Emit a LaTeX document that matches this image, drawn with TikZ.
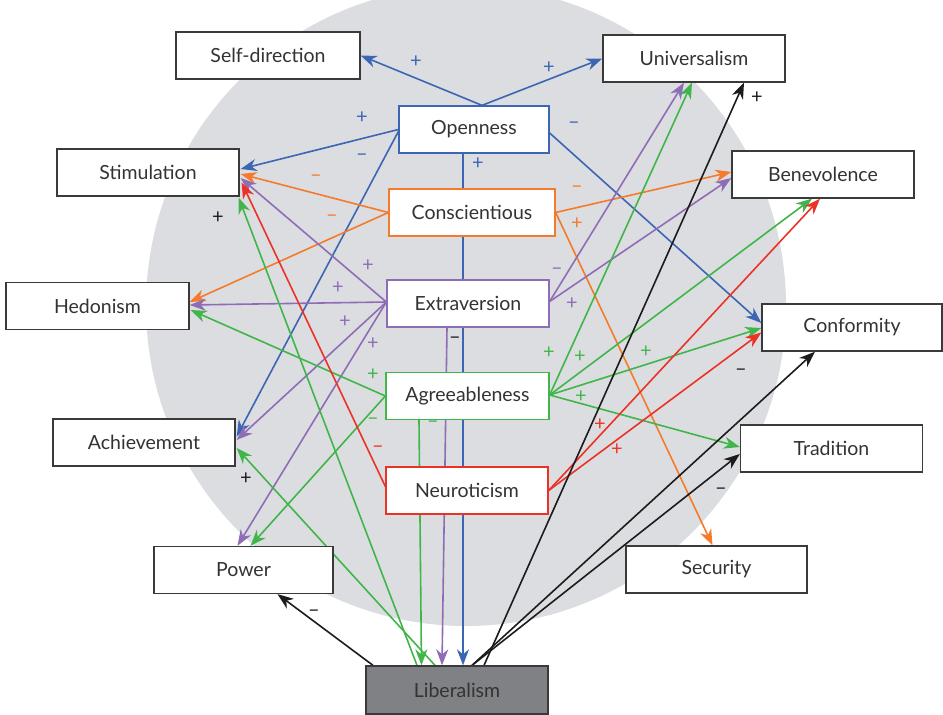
\documentclass[tikz,border=0pt]{standalone}
\usepackage{fontspec}
\setmainfont{Lato}
\usetikzlibrary{arrows.meta,calc}
\definecolor{cBlue}{HTML}{3C66B4}
\definecolor{cOrange}{HTML}{F47A2C}
\definecolor{cPurple}{HTML}{8F6DB6}
\definecolor{cGreen}{HTML}{40B64A}
\definecolor{cRed}{HTML}{EC3226}
\definecolor{cInk}{HTML}{1C1C1C}
\definecolor{cDisc}{HTML}{DCDDE0}
\definecolor{cText}{HTML}{333333}
\definecolor{cBorder}{HTML}{3A3A3A}
\definecolor{cLib}{HTML}{808185}
\pgfdeclarelayer{disc}
\pgfdeclarelayer{links}
\pgfsetlayers{disc,links,main}
\begin{document}
\begin{tikzpicture}[x=1pt,y=-1pt,
  box/.style={draw=#1, fill=white, line width=1.3pt, minimum height=47pt,
    inner sep=0pt, text=cText, font=\fontsize{19.5}{22}\selectfont},
  valbox/.style={box=cBorder, minimum width=182pt},
  link/.style={draw=#1, line width=1.6pt,
    -{Stealth[length=16pt,width=12pt,inset=5pt]}},
  sign/.style={text=#1, font=\fontsize{20}{20}\selectfont, inner sep=0pt},
]
\useasboundingbox (0,0) rectangle (943,715);
\clip (0,0) rectangle (943,715);

% shared disc behind the whole model
\begin{pgfonlayer}{disc}
  \fill[cDisc] (466,306) circle (320);
\end{pgfonlayer}

% value and trait boxes
\node[valbox, minimum width=184pt] (selfdir) at (268,55.5) {Self-direction};
\node[valbox] (univ) at (694,58.5) {Universalism};
\node[box=cBlue, minimum width=150pt] (open) at (474,129.5) {Openness};
\node[valbox] (stim) at (148,172.5) {Stimulation};
\node[box=cOrange, minimum width=166pt] (consc) at (472,212.5) {Conscientious};
\node[valbox] (bene) at (823,174.5) {Benevolence};
\node[valbox, minimum width=183pt] (hedo) at (97.5,306) {Hedonism};
\node[box=cPurple, minimum width=162pt] (extra) at (468,303.5) {Extraversion};
\node[valbox, minimum width=180pt] (conf) at (852,327.5) {Conformity};
\node[box=cGreen, minimum width=163pt] (agree) at (467.5,396) {Agreeableness};
\node[valbox] (achi) at (144,442.5) {Achievement};
\node[valbox] (trad) at (831.5,448.5) {Tradition};
\node[box=cRed, minimum width=162pt] (neuro) at (467,490.5) {Neuroticism};
\node[valbox, minimum width=179pt] (power) at (243.5,570) {Power};
\node[valbox, minimum width=181pt] (secu) at (716.5,569.5) {Security};
\node[box=cBorder, fill=cLib, minimum width=182pt, minimum height=48pt] (lib) at (457,690) {Liberalism};

\begin{pgfonlayer}{links}
  % Openness
  \draw[link=cBlue] ($(open.north)+(8,0)$) -- (selfdir.east);
  \draw[link=cBlue] ($(open.north)+(8,0)$) -- (univ.west);
  \draw[link=cBlue] (open.west) -- ($(stim.east)+(1,-3.5)$);
  \draw[link=cBlue] ($(open.west)+(0,2)$) -- ($(achi.east)+(1,-6)$);
  \draw[link=cBlue] ($(open.south)+(-11,0)$) -- ($(lib.north)+(6,0)$);
  \draw[link=cBlue] ($(open.east)+(0,3.5)$) -- ($(conf.west)+(0,-4.5)$);
  % Conscientious
  \draw[link=cOrange] (consc.west) -- ($(stim.east)+(1,1.5)$);
  \draw[link=cOrange] (consc.west) -- ($(hedo.east)+(0,-4)$);
  \draw[link=cOrange] (consc.east) -- ($(bene.west)+(0,-2.5)$);
  \draw[link=cOrange] (consc.east) -- ($(secu.north)+(-4,0)$);
  % Extraversion
  \draw[link=cPurple] ($(extra.west)+(0,-1.5)$) -- ($(stim.east)+(1,5.5)$);
  \draw[link=cPurple] ($(extra.west)+(0,-1.5)$) -- ($(hedo.east)+(0,-1)$);
  \draw[link=cPurple] ($(extra.west)+(0,-1.5)$) -- ($(achi.east)+(1,-2.5)$);
  \draw[link=cPurple] ($(extra.west)+(0,-1.5)$) -- ($(power.north)+(-6,0)$);
  \draw[link=cPurple] ($(extra.east)+(0,-2)$) -- ($(univ.south)+(-10,0)$);
  \draw[link=cPurple] ($(extra.east)+(0,-2)$) -- ($(bene.west)+(0,3.5)$);
  \draw[link=cPurple] ($(extra.south)+(-21,0)$) -- ($(lib.north)+(-15,0)$);
  % Agreeableness
  \draw[link=cGreen] (agree.west) -- ($(hedo.east)+(1,4)$);
  \draw[link=cGreen] (agree.west) -- ($(power.north)+(7,0)$);
  \draw[link=cGreen] ($(agree.south)+(-48.5,0)$) -- ($(lib.north)+(-35.5,0)$);
  \draw[link=cGreen] ($(agree.east)+(0,-1)$) -- ($(univ.south)+(-2,0)$);
  \draw[link=cGreen] ($(agree.east)+(0,-1)$) -- ($(bene.south)+(-11,0)$);
  \draw[link=cGreen] ($(agree.east)+(0,-1)$) -- ($(conf.west)+(0,0.5)$);
  \draw[link=cGreen] ($(agree.east)+(0,-1)$) -- ($(trad.west)+(0,-1.5)$);
  % Neuroticism
  \draw[link=cRed] ($(neuro.west)+(0,-4)$) -- ($(stim.east)+(2,10)$);
  \draw[link=cRed] (neuro.east) -- ($(bene.south)+(-3,0)$);
  \draw[link=cRed] (neuro.east) -- ($(conf.west)+(0,5)$);
  % Liberalism
  \draw[link=cInk] ($(lib.north)+(-84,0)$) -- ($(power.south)+(34,0)$);
  \draw[link=cInk] ($(lib.north)+(27,0)$) -- ($(univ.south)+(50,0)$);
  \draw[link=cInk] ($(lib.north)+(15,0)$) -- ($(conf.south)+(-37,0)$);
  \draw[link=cInk] ($(lib.north)+(15,0)$) -- ($(trad.west)+(0,5.5)$);
  \draw[link=cGreen] ($(lib.north)+(-40,0)$) -- ($(stim.south east)+(-1,1)$);
  \draw[link=cGreen] ($(lib.north)+(-22,0)$) -- ($(achi.east)+(1,5.5)$);
\end{pgfonlayer}

% signs of the paths
\node[sign=cBlue] (sb1) at (416,62) {+};
\node[sign=cBlue] (sb2) at (549,68) {+};
\node[sign=cBlue] (sb3) at (362,118) {+};
\node[sign=cBlue] (sb4) at (362,157) {–};
\node[sign=cBlue] (sb5) at (478,164) {+};
\node[sign=cBlue] (sb6) at (574,125) {–};
\node[sign=cOrange] (so1) at (316,178) {–};
\node[sign=cOrange] (so2) at (332,218) {–};
\node[sign=cOrange] (so3) at (577,189) {–};
\node[sign=cOrange] (so4) at (577,224) {+};
\node[sign=cPurple] (sp1) at (368,266) {+};
\node[sign=cPurple] (sp2) at (338,288) {+};
\node[sign=cPurple] (sp3) at (345,322) {+};
\node[sign=cPurple] (sp4) at (373,344) {+};
\node[sign=cPurple] (sp5) at (557,271) {–};
\node[sign=cPurple] (sp6) at (572,304) {+};
\node[sign=cInk] (sp7) at (455,340) {–};
\node[sign=cGreen] (sg1) at (373,375) {+};
\node[sign=cGreen] (sg2) at (373,421) {–};
\node[sign=cGreen] (sg3) at (433,424) {–};
\node[sign=cGreen] (sg4) at (549,353) {+};
\node[sign=cGreen] (sg5) at (580,357) {+};
\node[sign=cGreen] (sg6) at (646,352) {+};
\node[sign=cGreen] (sg7) at (581,397) {+};
\node[sign=cRed] (sr1) at (378,449) {–};
\node[sign=cRed] (sr2) at (600,425) {+};
\node[sign=cRed] (sr3) at (617,450) {+};
\node[sign=cInk] (sk1) at (218,218) {+};
\node[sign=cInk] (sk2) at (246,479) {+};
\node[sign=cInk] (sk3) at (314,613) {–};
\node[sign=cInk] (sk4) at (757,98) {+};
\node[sign=cInk] (sk5) at (741,372) {–};
\node[sign=cInk] (sk6) at (721,491) {–};
\end{tikzpicture}
\end{document}
